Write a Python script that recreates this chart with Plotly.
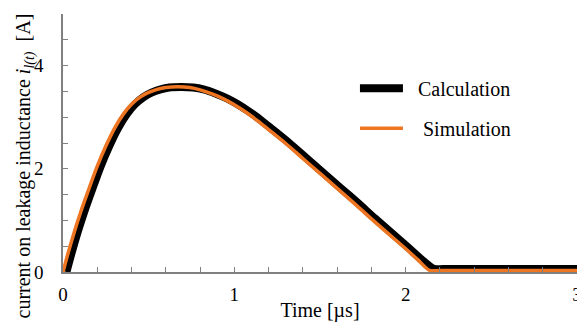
import plotly.graph_objects as go

# Simulation (orange) data: time [µs], current [A]
sim_t = [0, 0.03, 0.07, 0.1, 0.15, 0.2, 0.25, 0.3, 0.35, 0.4, 0.45, 0.5, 0.55, 0.6, 0.67, 0.74,
         0.8, 0.87, 0.94, 1.0, 1.07, 1.14, 1.2, 1.3, 1.4, 1.5, 1.6, 1.7, 1.8, 1.9, 2.0, 2.07, 2.14, 2.2, 3.0]
sim_i = [0, 0.37, 0.82, 1.13, 1.6, 2.05, 2.44, 2.78, 3.05, 3.25, 3.39, 3.48, 3.54, 3.575, 3.59, 3.575,
         3.53, 3.45, 3.35, 3.24, 3.09, 2.92, 2.76, 2.49, 2.2, 1.91, 1.62, 1.33, 1.03, 0.74, 0.45, 0.24, 0.03, 0.03, 0.03]

# Calculation (black) data: time [µs], current [A]
calc_t = [0.02, 0.05, 0.09, 0.12, 0.17, 0.22, 0.27, 0.32, 0.37, 0.42, 0.47, 0.52, 0.57, 0.62, 0.69, 0.76,
          0.82, 0.89, 0.96, 1.02, 1.09, 1.16, 1.22, 1.32, 1.42, 1.52, 1.62, 1.72, 1.82, 1.92, 2.02, 2.09, 2.165, 2.22, 3.0]
calc_i = [0, 0.37, 0.82, 1.13, 1.6, 2.05, 2.44, 2.78, 3.05, 3.25, 3.39, 3.48, 3.54, 3.575, 3.585, 3.575,
          3.54, 3.46, 3.36, 3.25, 3.1, 2.93, 2.77, 2.5, 2.21, 1.92, 1.63, 1.34, 1.04, 0.75, 0.46, 0.25, 0.06, 0.06, 0.06]

x_ticks = [0, 1, 2, 3]
y_ticks = [0, 2, 4]

FONT = "Liberation Serif"
NB = "\u00a0"

fig = go.Figure()
fig.add_trace(go.Scatter(x=calc_t, y=calc_i, mode="lines", name=NB * 2 + "Calculation",
                         legendgroup="a",
                         line=dict(color="black", width=8, shape="spline", smoothing=0.8)))
fig.add_trace(go.Scatter(x=sim_t, y=sim_i, mode="lines", name=NB * 3 + "Simulation",
                         legendgroup="b",
                         line=dict(color="#ee7622", width=3.5, shape="spline", smoothing=0.8)))

axis_common = dict(showline=True, linecolor="#808080", linewidth=1.5, showgrid=False,
                   zeroline=False, ticks="inside", ticklen=5, tickcolor="#808080", tickwidth=1,
                   automargin=False,
                   tickfont=dict(family=FONT, size=19, color="black"))

fig.update_xaxes(range=[0, 3], tickvals=x_ticks,
                 minor=dict(dtick=0.2, ticks="inside", ticklen=5, tickcolor="#808080", showgrid=False),
                 title=dict(text="Time [µs]", font=dict(family=FONT, size=20, color="black"), standoff=0),
                 ticklabelstandoff=4, **axis_common)
fig.update_yaxes(range=[0, 5], tickvals=y_ticks,
                 minor=dict(dtick=0.5, ticks="inside", ticklen=5, tickcolor="#808080", showgrid=False),
                 ticklabelstandoff=14, **axis_common)

fig.add_annotation(text="current on leakage inductance <i>i</i><sub><i>l(t)</i></sub>  [A]",
                   xref="paper", yref="paper", x=-38 / 514, y=0.409, xanchor="center", yanchor="middle",
                   textangle=-90, showarrow=False,
                   font=dict(family=FONT, size=20, color="black"))

# Page body has an 8px default margin, so the figure is sized to fit the window
fig.update_layout(
    width=577, height=314,
    margin=dict(l=55, r=8, t=6, b=50),
    paper_bgcolor="white", plot_bgcolor="white",
    showlegend=True,
    legend=dict(x=0.568, y=0.635, xanchor="left", yanchor="middle", bgcolor="rgba(0,0,0,0)",
                font=dict(family=FONT, size=20, color="black"), tracegroupgap=11,
                traceorder="grouped", itemwidth=43),
)

fig.write_html("out.html")
